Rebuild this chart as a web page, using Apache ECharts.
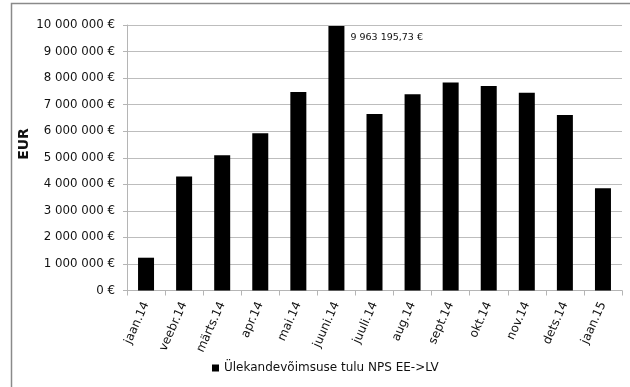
<!DOCTYPE html>
<html>
<head>
<meta charset="utf-8">
<script src="https://cdn.jsdelivr.net/npm/echarts@6/dist/echarts.min.js"></script>
<style>
  html, body { margin: 0; padding: 0; background: #fff; }
  #chart { width: 630px; height: 387px; }
</style>
</head>
<body>
<div id="chart"></div>
<script>
// Monthly transmission capacity income, NPS EE->LV
const months = ['jaan.14', 'veebr.14', 'märts.14', 'apr.14', 'mai.14', 'juuni.14',
  'juuli.14', 'aug.14', 'sept.14', 'okt.14', 'nov.14', 'dets.14', 'jaan.15'];
const income = [1235000, 4290000, 5090000, 5920000, 7480000, 9963195.73,
  6650000, 7390000, 7830000, 7700000, 7450000, 6610000, 3850000];
const seriesName = 'Ülekandevõimsuse tulu NPS EE->LV';
const yTicks = { min: 0, max: 10000000, interval: 1000000 };
const yTitle = 'EUR';
const labelledIndex = 5;

const FONT = '"DejaVu Sans", sans-serif';

function euro(v, decimals) {
  const parts = v.toFixed(decimals).split('.');
  const intPart = parts[0].replace(/\B(?=(\d{3})+(?!\d))/g, ' ');
  return intPart + (parts[1] ? ',' + parts[1] : '') + ' €';
}

const chart = echarts.init(document.getElementById('chart'), null, { renderer: 'canvas' });

chart.setOption({
  animation: false,
  backgroundColor: '#fff',
  graphic: [{
    type: 'rect',
    shape: { x: 11.5, y: 3.5, width: 640, height: 400 },
    style: { fill: 'none', stroke: '#8a8a8a', lineWidth: 1.5 },
    silent: true
  }, {
    type: 'text',
    x: 24,
    y: 144,
    rotation: Math.PI / 2,
    style: {
      text: yTitle,
      fontFamily: FONT,
      fontSize: 14,
      fontWeight: 'bold',
      fill: '#111',
      align: 'center',
      verticalAlign: 'middle'
    },
    silent: true
  }],
  grid: { left: 127, right: 8, top: 25, bottom: 96.5, containLabel: false },
  legend: {
    data: [seriesName],
    left: 207,
    top: 357,
    icon: 'rect',
    itemWidth: 7,
    itemHeight: 7,
    itemGap: 4,
    itemStyle: { borderWidth: 0 },
    textStyle: { fontFamily: FONT, fontSize: 12, color: '#111' }
  },
  xAxis: {
    type: 'category',
    data: months,
    boundaryGap: true,
    axisLine: { lineStyle: { color: '#b5b5b5', width: 1 } },
    axisTick: { show: true, alignWithLabel: false, length: 5, lineStyle: { color: '#b5b5b5' } },
    axisLabel: {
      interval: 0,
      rotate: 66,
      margin: 12,
      fontFamily: FONT,
      fontSize: 12,
      color: '#111'
    }
  },
  yAxis: {
    type: 'value',
    min: yTicks.min,
    max: yTicks.max,
    interval: yTicks.interval,
    axisLine: { show: true, lineStyle: { color: '#b5b5b5', width: 1 } },
    axisTick: { show: true, length: 4, lineStyle: { color: '#b5b5b5' } },
    splitLine: { lineStyle: { color: '#bdbdbd', width: 1 } },
    axisLabel: {
      margin: 12,
      fontFamily: FONT,
      fontSize: 11.8,
      color: '#111',
      formatter: v => euro(v, 0)
    }
  },
  series: [{
    name: seriesName,
    type: 'bar',
    data: income.map((v, i) => i === labelledIndex ? {
      value: v,
      label: {
        show: true,
        position: [22, 7],
        align: 'left',
        verticalAlign: 'top',
        formatter: p => euro(p.value, 2),
        fontFamily: FONT,
        fontSize: 9.5,
        color: '#111'
      }
    } : v),
    barWidth: 16,
    itemStyle: { color: '#000' }
  }]
});
</script>
</body>
</html>
